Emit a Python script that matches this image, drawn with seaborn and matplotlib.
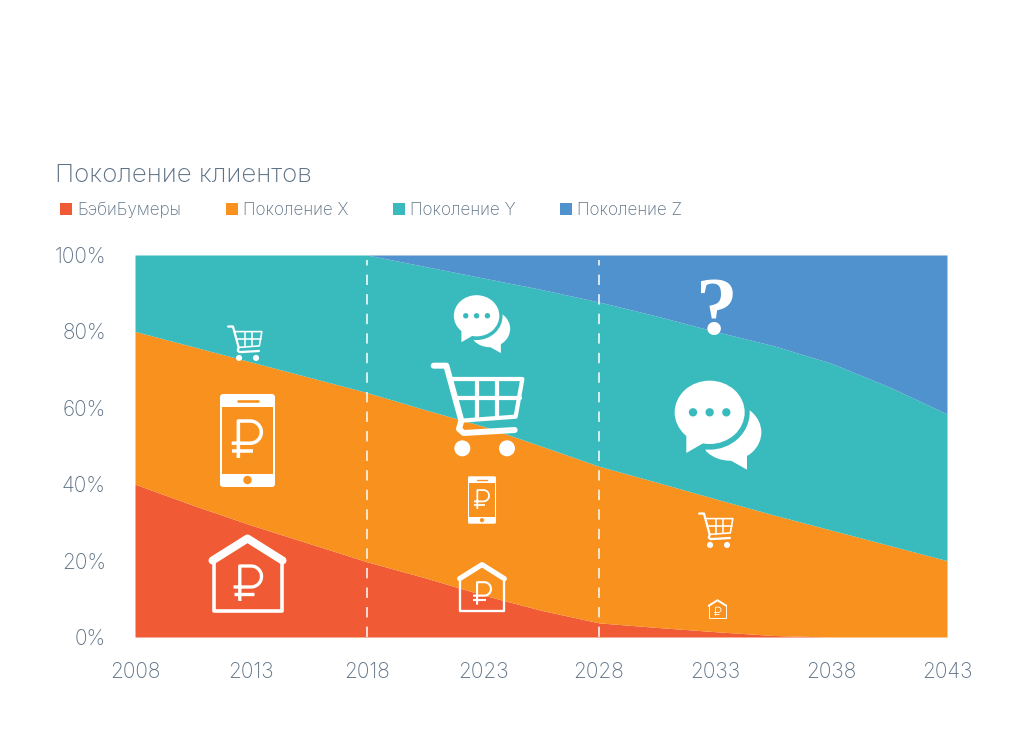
import numpy as np
import pandas as pd
import matplotlib
matplotlib.use("Agg")
import matplotlib.pyplot as plt
from matplotlib.patches import Circle, Ellipse, Polygon, FancyBboxPatch, Rectangle
import seaborn as sns

years = [2008, 2010.5, 2013, 2015.5, 2018, 2020.5, 2023, 2025.5, 2028, 2030.5, 2033, 2035.5, 2038, 2040.5, 2043]
boomers = [40, 34.5, 29.3, 24.5, 19.7, 15.5, 11, 7, 3.7, 2.5, 1.4, 0.4, 0, 0, 0]
gen_x = [40, 41.5, 42.7, 43.5, 44.3, 44, 44.2, 43, 41, 38, 34.8, 31.6, 28, 24, 20]
gen_y = [20, 24, 28, 32, 36, 37.5, 38.8, 41, 43, 43.5, 43.8, 44.3, 43.7, 41.5, 38.4]
gen_z = [0, 0, 0, 0, 0, 3, 6, 9, 12.3, 16, 20, 23.7, 28.3, 34.5, 41.6]

series_names = ["БэбиБумеры", "Поколение X", "Поколение Y", "Поколение Z"]
year_ticks = [2008, 2013, 2018, 2023, 2028, 2033, 2038, 2043]
percent_ticks = [0, 20, 40, 60, 80, 100]
divider_years = [2018, 2028]
title_text = "Поколение клиентов"

RED, ORANGE, TEAL, BLUE = "#F05A34", "#F9911E", "#39BBBD", "#4F92CE"
INK = "#5F7286"
WHITE = "white"

sns.set_theme(style="white")
plt.rcParams["font.family"] = ["Inter", "DejaVu Sans"]
plt.rcParams["font.weight"] = "light"
palette = sns.color_palette([RED, ORANGE, TEAL, BLUE])

frame = pd.DataFrame({"year": years, "БэбиБумеры": boomers, "Поколение X": gen_x,
                      "Поколение Y": gen_y, "Поколение Z": gen_z})

W, H = 1024, 753
fig = plt.figure(figsize=(W / 100, H / 100), dpi=100, facecolor="white")
ax = fig.add_axes([135 / W, (H - 637) / H, (947 - 135) / W, (637 - 255) / H])
ax.stackplot(frame["year"], *[frame[n] for n in series_names], colors=palette, linewidth=0)
ax.set_xlim(2008, 2043)
ax.set_ylim(0, 100)
ax.set_xticks(year_ticks)
ax.set_yticks(percent_ticks)
ax.set_yticklabels([f"{p}%" for p in percent_ticks])
ax.tick_params(axis="x", bottom=True, direction="in", length=4.5, width=1, color="white", pad=18,
               labelsize=15, labelcolor=INK)
ax.tick_params(axis="y", length=0, pad=21, labelsize=15, labelcolor=INK)
for d in divider_years:
    ax.axvline(d, color="white", lw=1.1, dashes=(6.8, 6), ymax=0.987)
sns.despine(ax=ax, left=True, bottom=True)

# Overlay in pixel units for the heading, the key and the pictograms
ov = fig.add_axes([0, 0, 1, 1], facecolor="none")
ov.set_xlim(0, W)
ov.set_ylim(H, 0)
ov.axis("off")

ov.text(55, 175, title_text, fontsize=18.7, color=INK, va="center", ha="left")
for name, color, sx in zip(series_names, palette, [60, 226, 393, 560]):
    ov.add_patch(Rectangle((sx, 203), 12, 12, color=color, lw=0))
    ov.text(sx + 17, 210, name, fontsize=12.3, color=INK, va="center", ha="left")


def px_lw(px):
    return px * 0.72


def stroke(pts, cx, cy, s, width, color=WHITE, cap="round", z=5):
    arr = np.asarray(pts, dtype=float)
    ov.plot(cx + s * arr[:, 0], cy + s * arr[:, 1], color=color, lw=px_lw(width * s),
            solid_capstyle=cap, solid_joinstyle="round", zorder=z)


def ruble(cx, cy, h, color=WHITE, z=7):
    t = np.linspace(-np.pi / 2, np.pi / 2, 30)
    arc = [(0.1 + 0.3 * np.cos(a), -0.2 + 0.3 * np.sin(a)) for a in t][::-1]
    outline = [(-0.4, 0.1)] + arc + [(-0.22, -0.5), (-0.22, 0.5)]
    stroke(outline, cx, cy, h, 0.095, color, cap="butt", z=z)
    stroke([(-0.4, 0.3), (0.18, 0.3)], cx, cy, h, 0.095, color, cap="butt", z=z)


def house(cx, cy, s):
    stroke([(-34, -14), (-34, 37), (34, 37), (34, -14)], cx, cy, s, 3.6)
    stroke([(-35, -13), (0, -35), (35, -13)], cx, cy, s, 8)
    ruble(cx, cy + 10 * s, 35 * s)


def phone(cx, cy, s, hole):
    w, h = 55 * s, 93 * s
    ov.add_patch(FancyBboxPatch((cx - w / 2 + 3 * s, cy - h / 2 + 3 * s), w - 6 * s, h - 6 * s,
                                boxstyle=f"round,pad={3 * s}", fc=WHITE, ec="none", zorder=5))
    ov.add_patch(Rectangle((cx - 25.5 * s, cy - 34 * s), 51 * s, 67 * s, fc=hole, ec="none", zorder=6))
    stroke([(-10, -40), (10, -40)], cx, cy, s, 2.6, hole, z=6)
    ov.add_patch(Circle((cx, cy + 39.5 * s), 4.2 * s, fc=hole, ec="none", zorder=6))
    ruble(cx - 1 * s, cy - 1 * s, 37 * s)


def cart(cx, cy, s):
    # Shape laid out on a 3x grid around its centre
    def g(points):
        return [((x - 835) / 3, (y - 265) / 3) for x, y in points]
    stroke(g([(702, 135), (740, 135), (785, 300), (778, 325), (792, 337), (945, 328)]), cx, cy, s, 6)
    stroke(g([(752, 175), (968, 175), (948, 288), (785, 300)]), cx, cy, s, 4.2)
    stroke(g([(768, 232), (960, 232)]), cx, cy, s, 4.2)
    stroke(g([(832, 175), (832, 295)]), cx, cy, s, 4.2)
    stroke(g([(892, 175), (892, 292)]), cx, cy, s, 4.2)
    for wx in (788, 922):
        ox, oy = g([(wx, 383)])[0]
        ov.add_patch(Circle((cx + s * ox, cy + s * oy), 8 * s, fc=WHITE, ec="none", zorder=5))


def chat(cx, cy, s, hole):
    def g(x, y):
        return (cx + s * (x - 205) / 3, cy + s * (y - 463) / 3)

    def blob(x, y, rx, ry, fc, z):
        ov.add_patch(Ellipse(g(x, y), 2 * rx * s / 3, 2 * ry * s / 3, fc=fc, ec="none", zorder=z))
    blob(240, 485, 95, 85, WHITE, 5)
    ov.add_patch(Polygon([g(235, 565), g(292, 597), g(292, 540)], fc=WHITE, ec="none", zorder=5))
    blob(180, 425, 120, 112, hole, 6)
    ov.add_patch(Polygon([g(140, 505), g(90, 555), g(170, 540)], fc=hole, ec="none", zorder=6))
    blob(180, 425, 105, 95, WHITE, 7)
    ov.add_patch(Polygon([g(110, 495), g(110, 547), g(165, 515)], fc=WHITE, ec="none", zorder=7))
    for dx in (130, 180, 230):
        blob(dx, 425, 12.5, 12.5, hole, 8)


house(247.5, 573.5, 1.0)
house(482, 587, 0.64)
house(717.5, 609, 0.25)
phone(247.5, 440.5, 1.0, ORANGE)
phone(482, 500, 0.51, ORANGE)
cart(478, 409, 1.0)
cart(245, 343, 0.38)
cart(716, 530, 0.38)
chat(718, 425, 1.0, TEAL)
chat(482, 324, 0.65, TEAL)
ov.text(717, 314, "?", fontsize=60, color=WHITE, ha="center", va="center",
        family="Liberation Serif", weight="bold", zorder=5)

fig.savefig("out.png", dpi=100, facecolor="white")
